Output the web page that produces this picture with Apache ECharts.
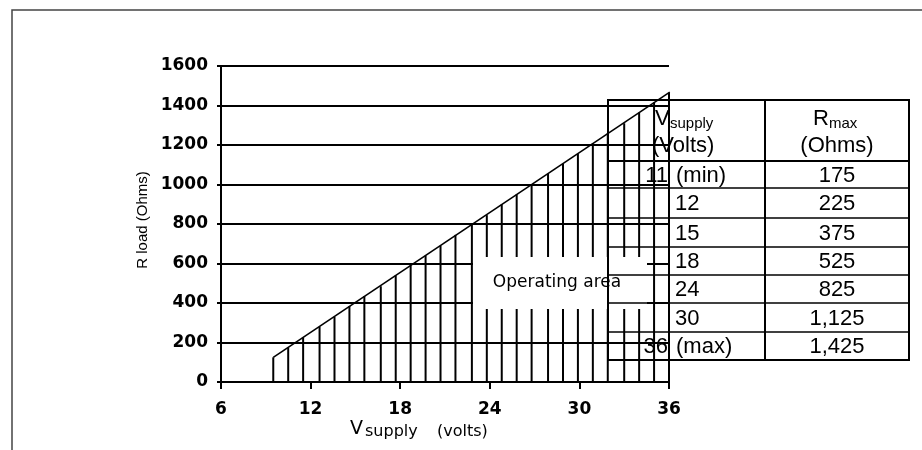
<!DOCTYPE html>
<html>
<head>
<meta charset="utf-8">
<script src="https://cdn.jsdelivr.net/npm/echarts@6/dist/echarts.min.js"></script>
<style>
html,body{margin:0;padding:0;background:#fff;}
#chart{width:922px;height:450px;}
</style>
</head>
<body>
<div id="chart"></div>
<script>
// ---- data ----
var xTicks = [6, 12, 18, 24, 30, 36];
var yTicks = [0, 200, 400, 600, 800, 1000, 1200, 1400, 1600];
// boundary of the operating area (R max line)
var boundV = [9.5, 36.05];
var boundR = [125, 1468];
// vertical hatching of the operating area
var hatchV = [9.5, 10.5, 11.5, 12.6, 13.6, 14.6, 15.6, 16.7, 17.7, 18.7, 19.7, 20.7, 21.7, 22.8, 23.8, 24.8, 25.8, 26.8, 27.9, 28.9, 29.9, 30.9, 31.9, 33.0, 34.0, 35.0, 36.0];
var hatchR = [125, 175, 225, 280, 330, 385, 435, 485, 540, 590, 640, 690, 745, 795, 845, 900, 950, 1000, 1055, 1105, 1155, 1210, 1260, 1310, 1365, 1415, 1465];
// table
var tableV = ['11', '12', '15', '18', '24', '30', '36'];
var tableVNote = ['(min)', '', '', '', '', '', '(max)'];
var tableR = ['175', '225', '375', '525', '825', '1,125', '1,425'];

var chartFont = 'DejaVu Sans';
var tabFont = 'Liberation Sans';

var chart = echarts.init(document.getElementById('chart'), null, {renderer: 'canvas'});

var hatchData = hatchV.map(function (v, i) { return [v, hatchR[i]]; });
var boundData = boundV.map(function (v, i) { return [v, boundR[i]]; });

// table geometry (pixels)
var tL = 608, tR = 909, tTop = 100, tDiv = 765;
var rowLines = [161, 188, 218, 247, 275, 303, 332, 360];

var graphics = [];
// outer frame
graphics.push({type: 'rect', z: 120, shape: {x: 12, y: 10, width: 1000, height: 1000},
  style: {fill: 'none', stroke: '#444', lineWidth: 1.5}, silent: true});
// operating area label box
graphics.push({type: 'rect', z: 100, shape: {x: 473, y: 257, width: 174, height: 52},
  style: {fill: '#fff', stroke: 'none'}});
graphics.push({type: 'text', z: 101, x: 557, y: 283,
  style: {text: 'Operating area', font: '17px "' + chartFont + '"', fill: '#000', align: 'center', verticalAlign: 'middle'}});
// table outline
graphics.push({type: 'rect', z: 110, shape: {x: tL, y: tTop, width: tR - tL, height: rowLines[rowLines.length - 1] - tTop},
  style: {fill: 'none', stroke: '#000', lineWidth: 2}});
graphics.push({type: 'line', z: 110, shape: {x1: tDiv, y1: tTop, x2: tDiv, y2: rowLines[rowLines.length - 1]},
  style: {stroke: '#000', lineWidth: 2}});
rowLines.slice(0, -1).forEach(function (y, i) {
  graphics.push({type: 'line', z: 110, shape: {x1: tL, y1: y, x2: tR, y2: y},
    style: {stroke: '#000', lineWidth: i === 0 ? 2.2 : 1.5}});
});
function txt(t, x, y, size, align, font, weight) {
  return {type: 'text', z: 111, x: x, y: y,
    style: {text: t, font: (weight || 'normal') + ' ' + size + 'px "' + (font || tabFont) + '"', fill: '#000', align: align, verticalAlign: 'middle'}};
}
// header texts
graphics.push(txt('V', 655, 119, 22, 'left'));
graphics.push(txt('supply', 670, 124, 15, 'left'));
graphics.push(txt('(Volts)', 652, 146, 22, 'left'));
graphics.push(txt('R', 813, 119, 22, 'left'));
graphics.push(txt('max', 829, 124, 15, 'left'));
graphics.push(txt('(Ohms)', 837, 146, 22, 'center'));
tableV.forEach(function (v, i) {
  var yc = (rowLines[i] + rowLines[i + 1]) / 2 + 1;
  if (tableVNote[i]) {
    graphics.push(txt(v, 668, yc, 22, 'right'));
    graphics.push(txt(tableVNote[i], 676, yc, 22, 'left'));
  } else {
    graphics.push(txt(v, 675, yc, 22, 'left'));
  }
  graphics.push(txt(tableR[i], 837, yc, 22, 'center'));
});
// axis names
var yName = txt('R load (Ohms)', 143, 220, 15, 'center', 'Liberation Sans');
yName.z = 50; yName.rotation = Math.PI / 2;
graphics.push(yName);
var n1 = txt('V', 350, 429, 19, 'left', chartFont); n1.z = 50; graphics.push(n1);
var n2 = txt('supply', 365, 432, 16, 'left', chartFont); n2.z = 50; graphics.push(n2);
var n3 = txt('(volts)', 437, 432, 16, 'left', chartFont); n3.z = 50; graphics.push(n3);

var option = {
  animation: false,
  backgroundColor: '#fff',
  grid: {left: 221, right: 253, top: 66, bottom: 68, containLabel: false},
  xAxis: {
    type: 'value', min: xTicks[0], max: xTicks[xTicks.length - 1], interval: 6,
    axisLine: {show: true, onZero: false, lineStyle: {color: '#000', width: 2}},
    axisTick: {show: true, length: 7, lineStyle: {color: '#000', width: 2}},
    axisLabel: {color: '#000', fontFamily: chartFont, fontSize: 17, fontWeight: 'bold', margin: 19,
      formatter: function (v) { return String(v); }},
    splitLine: {show: false}
  },
  yAxis: {
    type: 'value', min: yTicks[0], max: yTicks[yTicks.length - 1], interval: 200,
    axisLine: {show: true, lineStyle: {color: '#000', width: 2}},
    axisTick: {show: true, length: 4, lineStyle: {color: '#000', width: 2}},
    axisLabel: {color: '#000', fontFamily: chartFont, fontSize: 17, fontWeight: 'bold', margin: 13,
      formatter: function (v) { return String(v); }},
    splitLine: {show: true, lineStyle: {color: '#000', width: 2}}
  },
  series: [
    {
      type: 'bar', data: hatchData, barWidth: 2, itemStyle: {color: '#000'},
      silent: true, z: 3
    },
    {
      type: 'line', data: boundData, symbol: 'none', lineStyle: {color: '#000', width: 1.6},
      silent: true, z: 4, clip: false
    }
  ],
  graphic: {elements: graphics}
};
chart.setOption(option);
</script>
</body>
</html>
